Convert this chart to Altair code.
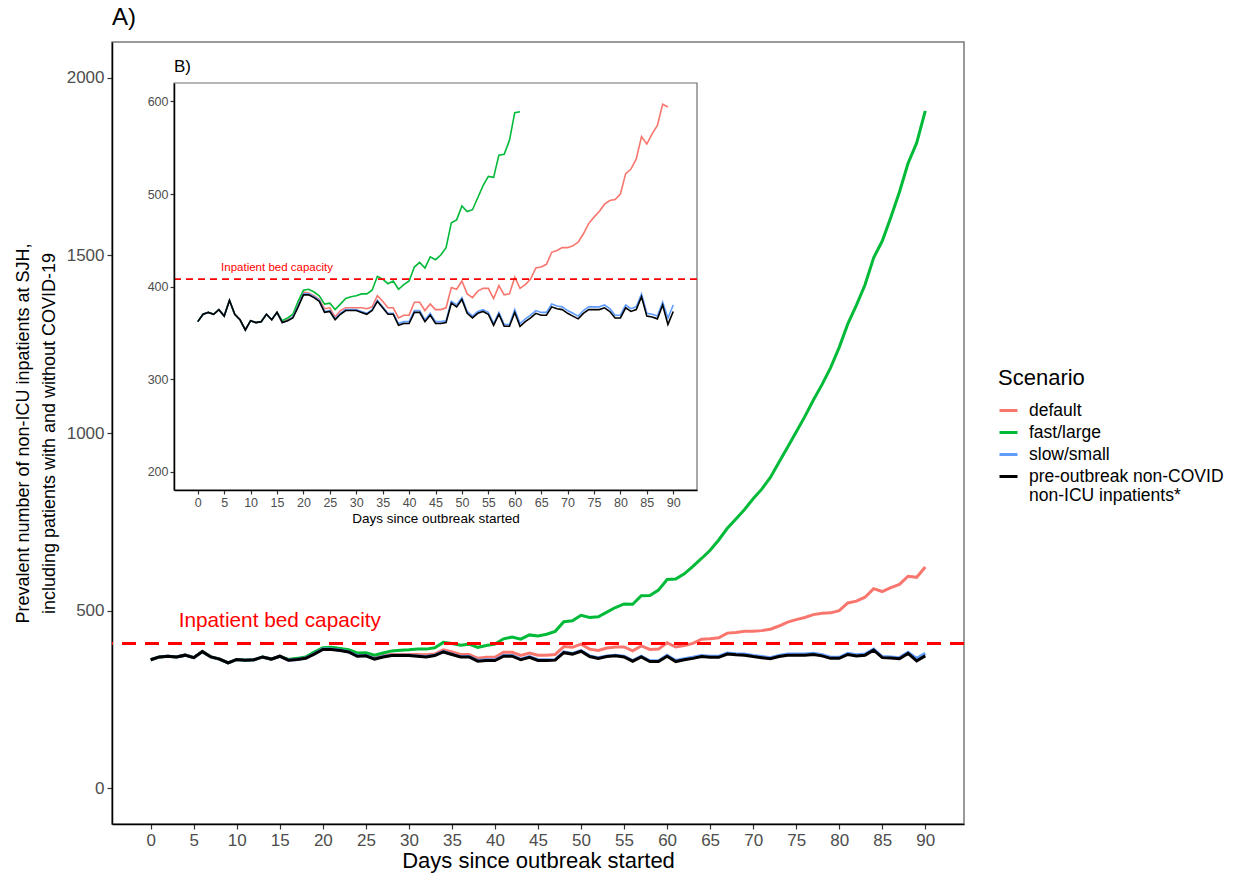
import altair as alt
import pandas as pd

# ---------------- data ----------------
DAYS = list(range(91))

PRE = [362, 370, 372, 370, 375, 368, 385, 370, 364, 353,
       363, 361, 362, 370, 364, 372, 361, 363, 366, 378,
       391, 391, 388, 384, 372, 373, 364, 370, 374, 374,
       374, 372, 370, 374, 384, 377, 370, 370, 358, 360,
       360, 372, 372, 362, 369, 360, 360, 361, 382, 378,
       386, 371, 366, 371, 373, 370, 358, 370, 357, 357,
       372, 357, 362, 366, 371, 369, 369, 378, 376, 375,
       371, 368, 365, 371, 375, 375, 375, 377, 373, 366,
       366, 377, 373, 375, 389, 368, 367, 365, 380, 359,
       373]

SLOW = [362, 370, 372, 370, 375, 368, 385, 370, 364, 353,
        363, 361, 362, 370, 364, 372, 361, 363, 367, 379,
        392, 392, 389, 385, 373, 374, 365, 371, 375, 375,
        375, 373, 371, 375, 385, 378, 371, 371, 360, 362,
        362, 374, 374, 364, 371, 362, 362, 363, 384, 380,
        388, 373, 368, 373, 375, 372, 360, 372, 359, 359,
        375, 360, 365, 369, 374, 372, 372, 381, 379, 378,
        374, 371, 368, 374, 378, 378, 378, 380, 376, 369,
        369, 380, 376, 378, 392, 371, 370, 368, 383, 366,
        380]

DEFAULT = [362, 370, 372, 370, 375, 368, 385, 370, 364, 353,
           363, 361, 362, 370, 364, 372, 361, 364, 367, 380,
           394, 393, 390, 386, 376, 377, 367, 374, 377, 377,
           377, 377, 376, 378, 390, 384, 377, 377, 366, 369,
           369, 383, 383, 374, 381, 375, 375, 377, 399, 397,
           406, 392, 388, 395, 398, 398, 387, 401, 391, 392,
           410, 398, 402, 408, 420, 421, 424, 437, 439, 442,
           442, 444, 448, 457, 468, 475, 481, 489, 493, 494,
           500, 522, 527, 538, 562, 554, 565, 574, 597, 594,
           623]

FAST = [362, 370, 372, 370, 375, 368, 385, 370, 364, 353,
        363, 361, 362, 370, 364, 372, 363, 366, 370, 384,
        396, 397, 394, 390, 381, 382, 375, 381, 387, 389,
        390, 392, 392, 396, 411, 408, 403, 406, 397, 402,
        406, 421, 426, 420, 432, 429, 434, 442, 469, 472,
        487, 481, 483, 496, 509, 519, 518, 542, 543, 558,
        588, 589, 604, 625, 647, 670, 699, 732, 758, 785,
        815, 842, 875, 918, 960, 1003, 1046, 1093, 1136, 1184,
        1241, 1307, 1360, 1417, 1493, 1540, 1607, 1678, 1759, 1816,
        1906]

CAPACITY = 408
CAPACITY_TEXT = "Inpatient bed capacity"
MAIN_LABEL_POS = [15, 470]
INSET_LABEL_POS = [15, 420]

SCENARIOS = ["default", "fast/large", "slow/small",
             "pre-outbreak non-COVID non-ICU inpatients*"]
COLORS = ["#F8766D", "#00BA38", "#619CFF", "#000000"]

X_DOMAIN = [-4.5, 94.5]
MAIN_Y_DOMAIN = [-100, 2100]
INSET_Y_DOMAIN = [180, 620]
INSET_CLIP = 600
X_TICKS = list(range(0, 91, 5))
MAIN_Y_TICKS = [0, 500, 1000, 1500, 2000]
INSET_Y_TICKS = [200, 300, 400, 500, 600]

rows = []
for name, vals in zip(SCENARIOS, [DEFAULT, FAST, SLOW, PRE]):
    for d, v in zip(DAYS, vals):
        rows.append({"day": d, "value": v, "scenario": name})
df = pd.DataFrame(rows)
one = pd.DataFrame({"k": [0]})

FONT = "Liberation Sans"
W, H = 852, 782
# inset placement inside the plot area (pixels)
INSET_XRANGE = [62, 585]
INSET_YRANGE = [448, 41]

AX = dict(grid=False, domainColor="black", domainWidth=1.5, tickColor="#333333",
          tickWidth=1.2, labelColor="#4d4d4d", titleColor="black",
          labelFont=FONT, titleFont=FONT, titleFontWeight="normal", format="d")

color = alt.Color(
    "scenario:N",
    scale=alt.Scale(domain=SCENARIOS, range=COLORS),
    legend=alt.Legend(
        title="Scenario", orient="none", legendX=886, legendY=326,
        symbolType="stroke", symbolStrokeWidth=3, symbolSize=324,
        titleFontSize=22, titleFontWeight="normal", titleFont=FONT,
        titleColor="black", titlePadding=10,
        labelFontSize=17.5, labelFont=FONT, labelColor="black",
        labelOffset=10, rowPadding=3, labelLimit=400,
        labelExpr="datum.label == 'pre-outbreak non-COVID non-ICU inpatients*' ? ['pre-outbreak non-COVID', '\u00a0non-ICU inpatients*'] : datum.label",
    ),
)

# ---------------- main panel ----------------
main_x = alt.X(
    "day:Q",
    scale=alt.Scale(domain=X_DOMAIN, nice=False, zero=False),
    axis=alt.Axis(values=X_TICKS, title="Days since outbreak started",
                  labelFontSize=17, titleFontSize=22, tickSize=5,
                  labelPadding=3, titlePadding=2, **AX),
)
main_y = alt.Y(
    "value:Q",
    scale=alt.Scale(domain=MAIN_Y_DOMAIN, nice=False, zero=False),
    axis=alt.Axis(values=MAIN_Y_TICKS,
                  title=["Prevalent number of non-ICU inpatients at SJH,",
                         "including patients with and without COVID-19"],
                  labelFontSize=17, titleFontSize=18, titleLineHeight=26,
                  tickSize=5, labelPadding=3, titlePadding=8, **AX),
)

main_lines = alt.Chart(df).mark_line(strokeWidth=3).encode(
    x=main_x, y=main_y, color=color, order="day:Q")

main_rule = alt.Chart(one).mark_rule(
    color="red", strokeWidth=3, strokeDash=[14, 9]
).encode(y=alt.datum(CAPACITY))

main_text = alt.Chart(one).mark_text(
    text=CAPACITY_TEXT, color="red", fontSize=20.8, font=FONT,
    baseline="middle", align="center"
).encode(x=alt.datum(MAIN_LABEL_POS[0]), y=alt.datum(MAIN_LABEL_POS[1]))

main = alt.layer(main_lines, main_rule, main_text)

# ---------------- inset panel ----------------
inset_x = alt.X(
    "day:Q",
    scale=alt.Scale(domain=X_DOMAIN, nice=False, zero=False, range=INSET_XRANGE),
    axis=alt.Axis(values=X_TICKS, orient="bottom", offset=-(H - INSET_YRANGE[0]),
                  title="Days since outbreak started", titleFontSize=13.5,
                  labelFontSize=12.5, tickSize=4, labelPadding=2,
                  titlePadding=3, zindex=2, **AX),
)
inset_y = alt.Y(
    "value:Q",
    scale=alt.Scale(domain=INSET_Y_DOMAIN, nice=False, zero=False, range=INSET_YRANGE),
    axis=alt.Axis(values=INSET_Y_TICKS, orient="left", offset=-INSET_XRANGE[0],
                  title=None, labelFontSize=12.5, tickSize=4, labelPadding=2,
                  zindex=2, **AX),
)

inset_bg = alt.Chart(one).mark_rect(
    fill="white", stroke="#6f6f6f", strokeWidth=1.2
).encode(
    x=alt.datum(X_DOMAIN[0]), x2=alt.datum(X_DOMAIN[1]),
    y=alt.datum(INSET_Y_DOMAIN[0]), y2=alt.datum(INSET_Y_DOMAIN[1]),
)

inset_lines = alt.Chart(df).transform_filter(
    alt.datum.value <= INSET_CLIP
).mark_line(strokeWidth=1.6).encode(
    x=inset_x, y=inset_y, color=color, order="day:Q")

inset_rule = alt.Chart(one).mark_rule(
    color="red", strokeWidth=1.6, strokeDash=[7, 5]
).encode(x=alt.datum(X_DOMAIN[0]), x2=alt.datum(X_DOMAIN[1]), y=alt.datum(CAPACITY))

inset_text = alt.Chart(one).mark_text(
    text=CAPACITY_TEXT, color="red", fontSize=11.5, font=FONT,
    baseline="middle", align="center"
).encode(x=alt.datum(INSET_LABEL_POS[0]), y=alt.datum(INSET_LABEL_POS[1]))

inset_tag = alt.Chart(one).mark_text(
    text="B)", color="black", fontSize=17, font=FONT,
    baseline="alphabetic", align="left", dy=-11
).encode(x=alt.datum(X_DOMAIN[0]), y=alt.datum(INSET_Y_DOMAIN[1]))

inset = alt.layer(inset_bg, inset_lines, inset_rule, inset_text, inset_tag)

chart = alt.layer(main, inset).resolve_scale(
    x="independent", y="independent"
).properties(
    width=W, height=H,
    background="white",
    autosize=alt.AutoSizeParams(type="none"),
    padding={"left": 112, "top": 42, "right": 270, "bottom": 53},
    title=alt.TitleParams("A)", anchor="start", frame="group", fontSize=24,
                          fontWeight="normal", font=FONT, color="black", offset=12),
).configure_view(
    stroke="#7a7a7a", strokeWidth=1.5, fill="white"
)

chart.save("out.html", embed_options={"renderer": "svg", "actions": False})
